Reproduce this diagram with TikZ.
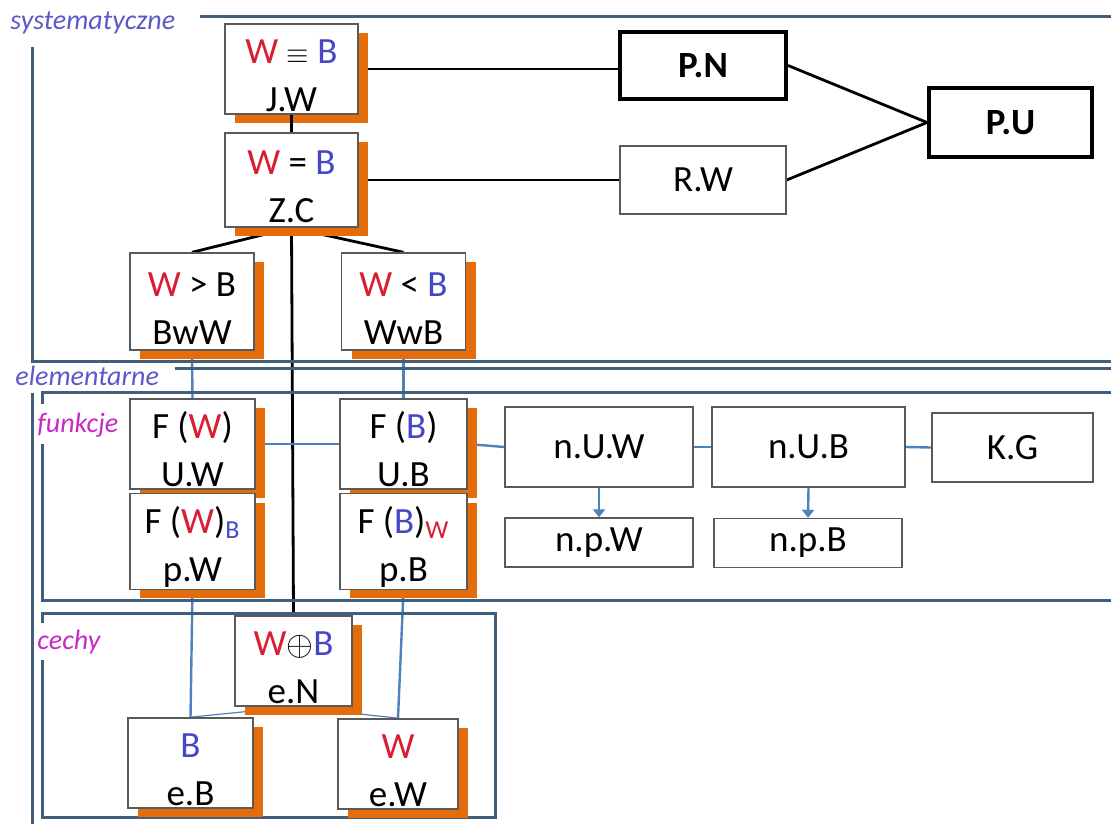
\documentclass[tikz,border=0pt]{standalone}
\usepackage{fontspec}
\setmainfont{Carlito}
\usetikzlibrary{arrows.meta,shadows}

\definecolor{wred}{RGB}{215,30,50}
\definecolor{bblue}{RGB}{70,70,200}
\definecolor{tagblue}{RGB}{90,90,200}
\definecolor{tagpink}{RGB}{200,40,200}
\definecolor{framecol}{RGB}{65,95,125}
\definecolor{connblue}{RGB}{79,129,189}
\definecolor{shadoworange}{RGB}{228,108,10}
\definecolor{boxgray}{RGB}{90,90,90}

\newcommand{\boxfont}{\fontsize{18.5}{24}\selectfont}
\newcommand{\tagfont}{\fontsize{14}{16}\selectfont\itshape}
\newcommand{\rW}{{\color{wred}W}}
\newcommand{\bB}{{\color{bblue}B}}
\newcommand{\two}[2]{\rule{0pt}{19pt}#1\\#2}

\pgfdeclarelayer{background}
\pgfsetlayers{background,main}

\tikzset{
  box/.style={draw=boxgray, line width=0.7pt, fill=white, align=center, font=\boxfont, inner sep=1pt},
  sbox/.style={box, drop shadow={shadow xshift=5pt, shadow yshift=-4.5pt, fill=shadoworange, opacity=1}},
  pbox/.style={draw=black, line width=2pt, fill=white, font=\boxfont\bfseries},
  boxdim/.style 2 args={minimum width=#1pt, minimum height=#2pt},
  frame/.style={draw=framecol, line width=1.5pt},
  link/.style={black, line width=1.4pt},
  blink/.style={connblue, line width=1.2pt},
  tag/.style={font=\tagfont, inner sep=0pt, anchor=west},
}

\begin{document}
\begin{tikzpicture}[x=0.5pt,y=-0.5pt]
\useasboundingbox (0,0) rectangle (1111,824);

\draw[frame] (200,17) -- (1111,17);
\draw[frame] (32,47) -- (32,361) -- (1111,361);
\draw[frame] (175,368) -- (1111,368);
\draw[frame] (32,393) -- (32,824);
\draw[frame] (42,404) -- (42,392) -- (1111,392);
\draw[frame] (42,444) -- (42,600) -- (1111,600);
\draw[frame] (42,623) -- (42,613) -- (495,613) -- (495,817) -- (42,817) -- (42,660);

\node[tag, text=tagblue] (sys) at (10,23) {systematyczne};
\node[tag, text=tagblue] (elem) at (15,376) {elementarne};
\node[tag, text=tagpink] (fun) at (37,425) {funkcje};
\node[tag, text=tagpink] (cech) at (37,642) {cechy};

\node[sbox, boxdim={66.5}{43}] (JW) at (291.5,69) {\two{\rW{} {\fontsize{15}{15}\selectfont$\equiv$} \bB}{J.W}};
\node[sbox, boxdim={66.5}{47}] (ZC) at (291.5,180) {\two{\rW{} = \bB}{Z.C}};
\node[sbox, boxdim={62}{48.5}] (BwW) at (192,301.5) {\two{\rW{} > B}{BwW}};
\node[sbox, boxdim={62}{48.5}] (WwB) at (403.5,301.5) {\two{\rW{} < \bB}{WwB}};

\node[pbox, boxdim={83}{33.5}] (PN) at (703,65.5) {P.N};
\node[box, boxdim={83}{34}] (RW) at (703,180) {R.W};
\node[pbox, boxdim={81.5}{34.5}] (PU) at (1010.5,122.5) {P.U};

\node[sbox, boxdim={62.5}{44}] (UW) at (192.5,444) {\two{F (\rW)}{U.W}};
\node[sbox, boxdim={62.5}{43.5}] (pW) at (192.5,541.5) {\two{F (\rW)\textsubscript{\color{bblue}B}}{p.W}};
\node[sbox, boxdim={63.5}{44}] (UB) at (403.5,444) {\two{F (\bB)}{U.B}};
\node[sbox, boxdim={63.5}{43.5}] (pB) at (403.5,541.5) {\two{F (\bB)\textsubscript{\color{wred}W}}{p.B}};

\node[box, boxdim={94}{40}] (nUW) at (599,447) {n.U.W};
\node[box, boxdim={96.5}{40}] (nUB) at (808.5,447) {n.U.B};
\node[box, boxdim={80.5}{34.5}] (KG) at (1012.5,447.5) {K.G};
\node[box, boxdim={94}{24.5}] (npW) at (599,542.5) {n.p.W};
\node[box, boxdim={94}{24.5}] (npB) at (808,543) {n.p.B};

\node[sbox, boxdim={58.5}{44}] (eN) at (293.5,661) {\two{\rW$\oplus$\bB}{e.N}};
\node[sbox, boxdim={62.5}{45}] (eB) at (190.5,763) {\two{\bB}{e.B}};
\node[sbox, boxdim={60}{44}] (eW) at (398,764) {\two{\rW}{e.W}};

\begin{pgfonlayer}{background}
\draw[link] (JW.east) -- (JW.east -| PN.west);
\draw[link] (ZC.east) -- (RW.west);
\draw[link] (PN.east) -- (PU.west);
\draw[link] (RW.east) -- (PU.west);
\draw[link] (ZC.south) -- (BwW.north);
\draw[link] (ZC.south) -- (WwB.north);
\draw[link] (ZC.south) -- (eN.north);
\draw[blink] (BwW.south) -- (UW.north);
\draw[blink] (WwB.south) -- (UB.north);
\draw[blink] (UW.east) -- (UB.west);
\draw[blink] (UB.east) -- (nUW.west);
\draw[blink] (nUW.east) -- (nUB.west);
\draw[blink] (nUB.east) -- (KG.west);
\draw[blink] (pW.south) -- (eB.north);
\draw[blink] (pB.south) -- (eW.north);
\draw[blink, line width=0.6pt] (eN.south) -- (eB.north);
\draw[blink, line width=0.6pt] (eN.south) -- (eW.north);
\end{pgfonlayer}
\draw[link] (JW.south) -- (ZC.north);
\draw[blink, -{Triangle[width=6pt,length=4pt]}] (nUW.south) -- (npW.north);
\draw[blink, -{Triangle[width=6pt,length=4pt]}] (nUB.south) -- (npB.north);
\end{tikzpicture}
\end{document}
